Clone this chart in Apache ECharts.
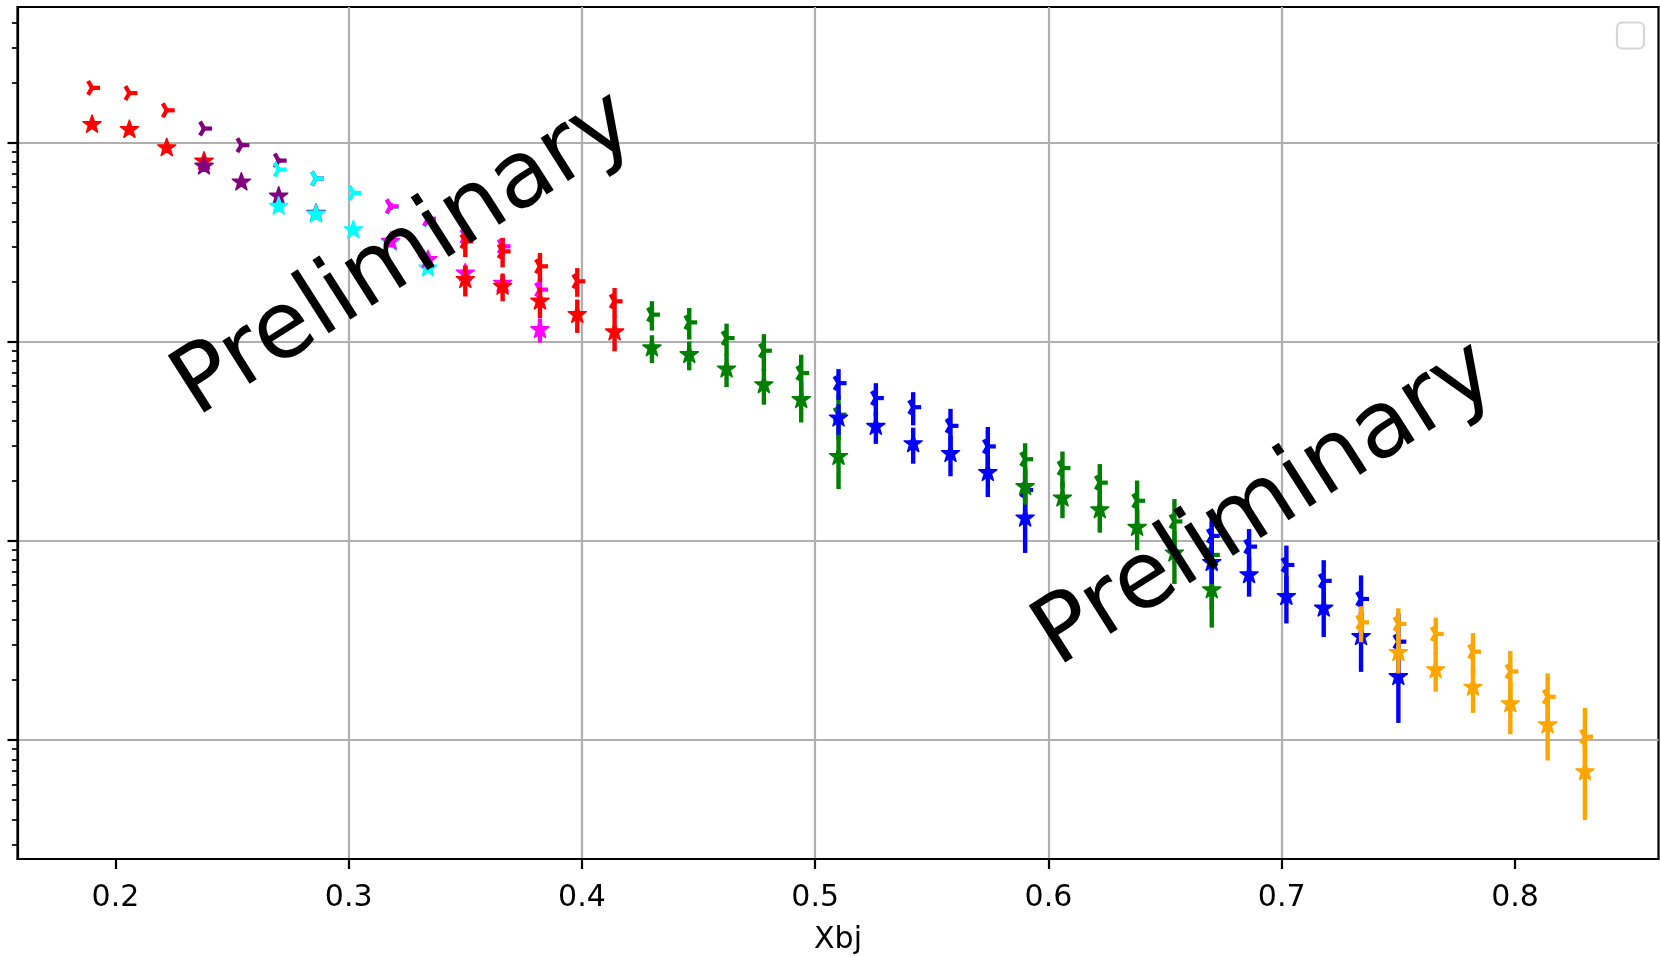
<!DOCTYPE html>
<html><head><meta charset="utf-8">
<script src="https://cdn.jsdelivr.net/npm/echarts@6/dist/echarts.min.js"></script>
<style>html,body{margin:0;padding:0;background:#fff}#c{width:1660px;height:957px}</style>
</head><body><div id="c"></div>
<script>
// ---------------- data ----------------
const xTicks = [0.2, 0.3, 0.4, 0.5, 0.6, 0.7, 0.8];
const yMajorTicks = [1e-3, 1e-2, 1e-1, 1];
const yMinorTicks = [3e-4,4e-4,5e-4,6e-4,7e-4,8e-4,9e-4,
  2e-3,3e-3,4e-3,5e-3,6e-3,7e-3,8e-3,9e-3,
  2e-2,3e-2,4e-2,5e-2,6e-2,7e-2,8e-2,9e-2,
  0.2,0.3,0.4,0.5,0.6,0.7,0.8,0.9, 2,3,4];

// red, low Xbj
const xRedA = [0.190, 0.206, 0.222, 0.238];
const triRedA = [1.88, 1.77, 1.45, null];
const triErrRedA = [0.03, 0.03, 0.03, 0];
const starRedA = [1.23, 1.16, 0.94, 0.805];
const starErrRedA = [0.02, 0.02, 0.02, 0.02];
// purple
const xPurple = [0.238, 0.254, 0.270, 0.286];
const triPurple = [1.174, 0.969, 0.811, 0.659];
const triErrPurple = [0.02, 0.02, 0.02, 0.02];
const starPurple = [0.760, 0.632, 0.537, 0.440];
const starErrPurple = [0.015, 0.015, 0.015, 0.015];
// cyan
const xCyan = [0.270, 0.286, 0.302, 0.318, 0.334];
const triCyan = [0.731, 0.659, 0.558, 0.475, 0.410];
const triErrCyan = [0.015, 0.015, 0.015, 0.015, 0.02];
const starCyan = [0.478, 0.436, 0.364, 0.315, 0.234];
const starErrCyan = [0.01, 0.01, 0.01, 0.012, 0.012];
// magenta
const xMagenta = [0.318, 0.334, 0.350, 0.366, 0.382];
const triMagenta = [0.478, 0.414, 0.338, 0.301, 0.1825];
const triErrMagenta = [0.02, 0.025, 0.03, 0.03, 0.025];
const starMagenta = [0.319, 0.258, 0.221, 0.196, 0.1148];
const starErrMagenta = [0.015, 0.02, 0.02, 0.02, 0.016];
// red, higher Xbj
const xRedB = [0.350, 0.366, 0.382, 0.398, 0.414];
const triRedB = [0.319, 0.284, 0.239, 0.201, 0.1595];
const triErrRedB = [0.053, 0.048, 0.040, 0.033, 0.0265];
const starRedB = [0.2047, 0.1895, 0.1595, 0.1367, 0.1118];
const starErrRedB = [0.036, 0.030, 0.028, 0.026, 0.0224];
// green, first set
const xGreenA = [0.430, 0.446, 0.462, 0.478, 0.494, 0.510];
const triGreenA = [0.1367, 0.125, 0.1042, 0.0901, 0.0696, 0.043];
const triErrGreenA = [0.023, 0.0226, 0.019, 0.019, 0.0164, 0.011];
const starGreenA = [0.0929, 0.086, 0.0728, 0.0607, 0.0511, 0.0265];
const starErrGreenA = [0.0148, 0.0142, 0.0137, 0.0124, 0.0118, 0.0083];
// blue, first set
const xBlueA = [0.510, 0.526, 0.542, 0.558, 0.574, 0.590];
const triBlueA = [0.0619, 0.0521, 0.0469, 0.0378, 0.0298, 0.018];
const triErrBlueA = [0.0109, 0.0098, 0.0089, 0.0082, 0.0075, 0.0054];
const starBlueA = [0.0413, 0.0375, 0.0307, 0.0274, 0.022, 0.013];
const starErrBlueA = [0.0072, 0.0068, 0.0063, 0.0063, 0.0054, 0.0043];
// green, second set
const xGreenB = [0.590, 0.606, 0.622, 0.638, 0.654, 0.670];
const triGreenB = [0.0257, 0.0232, 0.0196, 0.0159, 0.01252, 0.0085];
const triErrGreenB = [0.0052, 0.0049, 0.0047, 0.0042, 0.0037, 0.004];
const starGreenB = [0.0187, 0.0164, 0.0143, 0.01167, 0.00868, 0.00567];
const starErrGreenB = [0.0035, 0.0034, 0.0033, 0.0027, 0.0026, 0.002];
// blue, second set
const xBlueB = [0.670, 0.686, 0.702, 0.718, 0.734, 0.750];
const triBlueB = [0.01059, 0.00936, 0.00757, 0.0063, 0.00511, 0.00312];
const triErrBlueB = [0.0023, 0.0021, 0.0019, 0.0017, 0.0016, 0.0012];
const starBlueB = [0.00778, 0.00675, 0.00525, 0.00459, 0.0033, 0.00208];
const starErrBlueB = [0.0017, 0.0015, 0.0014, 0.0013, 0.0011, 0.00086];
// orange
const xOrange = [0.734, 0.750, 0.766, 0.782, 0.798, 0.814, 0.830];
const triOrange = [0.0039, 0.00383, 0.00341, 0.00278, 0.00221, 0.00165, 0.00104];
const triErrOrange = [0.0008, 0.00076, 0.00071, 0.00066, 0.00059, 0.00051, 0.00041];
const starOrange = [null, 0.00275, 0.00225, 0.00184, 0.00152, 0.00119, 0.000693];
const starErrOrange = [0, 0.00059, 0.0005, 0.00047, 0.00045, 0.0004, 0.000296];

const watermark = 'Preliminary';

// ---------------- drawing ----------------
const groups = [
  ['red', xRedA, triRedA, triErrRedA, starRedA, starErrRedA],
  ['#800080', xPurple, triPurple, triErrPurple, starPurple, starErrPurple],
  ['#00ffff', xCyan, triCyan, triErrCyan, starCyan, starErrCyan],
  ['#ff00ff', xMagenta, triMagenta, triErrMagenta, starMagenta, starErrMagenta],
  ['red', xRedB, triRedB, triErrRedB, starRedB, starErrRedB],
  ['#008000', xGreenA, triGreenA, triErrGreenA, starGreenA, starErrGreenA],
  ['#0000ff', xBlueA, triBlueA, triErrBlueA, starBlueA, starErrBlueA],
  ['#008000', xGreenB, triGreenB, triErrGreenB, starGreenB, starErrGreenB],
  ['#0000ff', xBlueB, triBlueB, triErrBlueB, starBlueB, starErrBlueB],
  ['#ffa500', xOrange, triOrange, triErrOrange, starOrange, starErrOrange]
];

function makeRender(kind, color) {
  return function (params, api) {
    const x = api.value(0), v = api.value(1), e = api.value(2);
    const c = api.coord([x, v]);
    const children = [];
    if (e > 0) {
      const hi = api.coord([x, v + e]);
      const lo = api.coord([x, Math.max(v - e, 1e-9)]);
      children.push({type: 'line', shape: {x1: c[0], y1: hi[1], x2: c[0], y2: lo[1]},
        style: {stroke: color, lineWidth: 4.4}});
    }
    if (kind === 'star') {
      const R = 9.5, r = 9.5 * 0.40, pts = [];
      for (let k = 0; k < 10; k++) {
        const a = -Math.PI / 2 + k * Math.PI / 5;
        const rad = k % 2 === 0 ? R : r;
        pts.push([c[0] + rad * Math.cos(a), c[1] + rad * Math.sin(a)]);
      }
      children.push({type: 'polygon', shape: {points: pts},
        style: {fill: color, stroke: color, lineWidth: 1.5, lineJoin: 'round'}});
    } else {
      const L = 8;
      const ends = [[L, 0], [-L / 2, -L * 0.866], [-L / 2, L * 0.866]];
      ends.forEach(function (d) {
        children.push({type: 'line', shape: {x1: c[0], y1: c[1], x2: c[0] + d[0], y2: c[1] + d[1]},
          style: {stroke: color, lineWidth: 4.2}});
      });
    }
    return {type: 'group', children: children};
  };
}

const series = [];
groups.forEach(function (g) {
  const color = g[0], xs = g[1];
  [['tri', g[2], g[3]], ['star', g[4], g[5]]].forEach(function (m) {
    const data = xs.map(function (x, i) { return [x, m[1][i], m[2][i]]; })
      .filter(function (d) { return d[1] != null; });
    series.push({type: 'custom', xAxisIndex: 0, yAxisIndex: 0, renderItem: makeRender(m[0], color),
      encode: {x: 0, y: 1}, data: data, clip: true, silent: true});
  });
});

const FONT = 'DejaVu Sans';
const chart = echarts.init(document.getElementById('c'), null, {renderer: 'canvas'});
chart.setOption({
  animation: false,
  backgroundColor: '#ffffff',
  grid: {left: 17.5, right: 1.5, top: 7, bottom: 98, show: true, containLabel: false,
    outerBoundsMode: 'none',
    borderColor: '#000', borderWidth: 2.2, backgroundColor: 'transparent'},
  xAxis: [{
    type: 'value', min: 0.15803, max: 0.86152,
    name: 'Xbj', nameLocation: 'middle', nameGap: 66,
    nameTextStyle: {fontFamily: FONT, fontSize: 30, color: '#000'},
    axisLine: {show: true, lineStyle: {color: '#000', width: 2.2}},
    axisTick: {show: true, length: 10, customValues: xTicks, lineStyle: {color: '#000', width: 2.2}},
    axisLabel: {show: true, customValues: xTicks, margin: 24, fontFamily: FONT, fontSize: 30, color: '#000',
      formatter: function (v) { return v.toFixed(1); }},
    splitLine: {show: true, showMinLine: false, showMaxLine: false, lineStyle: {color: '#b0b0b0', width: 2.2}}
  }],
  yAxis: [{
    type: 'log', logBase: 10, min: 2.53e-4, max: 4.787, position: 'left',
    axisLine: {show: true, lineStyle: {color: '#000', width: 2.2}},
    axisTick: {show: true, length: 10, customValues: yMajorTicks, lineStyle: {color: '#000', width: 2.2}},
    axisLabel: {show: false},
    splitLine: {show: true, showMinLine: true, showMaxLine: true, lineStyle: {color: '#b0b0b0', width: 2.2}}
  }, {
    type: 'log', logBase: 10, min: 2.53e-4, max: 4.787, position: 'left', offset: 0,
    axisLine: {show: false},
    axisTick: {show: true, length: 5.6, customValues: yMinorTicks, lineStyle: {color: '#000', width: 1.7}},
    axisLabel: {show: false},
    splitLine: {show: false}
  }],
  series: series,
  graphic: [
    {type: 'rect', z: 50, shape: {x: 1617, y: 22.5, width: 27, height: 26, r: 5},
      style: {fill: '#ffffff', stroke: '#d6d6d6', lineWidth: 2.2}},
    {type: 'text', z: 100, x: 405, y: 256, rotation: 32.5 * Math.PI / 180,
      style: {text: watermark, fontFamily: FONT, fontSize: 93, fill: '#000',
        textAlign: 'center', textVerticalAlign: 'middle'}},
    {type: 'text', z: 100, x: 1266, y: 506, rotation: 32.5 * Math.PI / 180,
      style: {text: watermark, fontFamily: FONT, fontSize: 93, fill: '#000',
        textAlign: 'center', textVerticalAlign: 'middle'}}
  ]
});
</script></body></html>
